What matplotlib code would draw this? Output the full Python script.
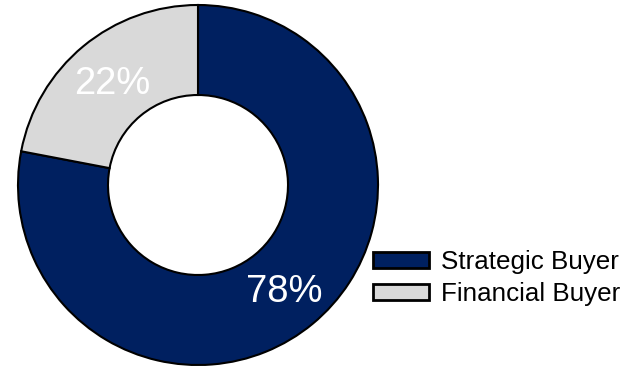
import matplotlib.pyplot as plt

# данные
labels = ["Strategic Buyer", "Financial Buyer"]
shares = [78, 22]
colors = ["#002060", "#D9D9D9"]

plt.rcParams['font.family'] = ['Liberation Sans', 'DejaVu Sans']

fig = plt.figure(figsize=(6.27, 3.67), dpi=100)
ax = fig.add_axes([0, 0, 1, 1])

wedges, texts, autotexts = ax.pie(
    shares, colors=colors, startangle=90, counterclock=False,
    center=(198, 182), radius=180,
    autopct=lambda p: "{:.0f}%".format(p), pctdistance=0.75,
    wedgeprops=dict(width=90, edgecolor="black", linewidth=1.5),
    textprops=dict(color="white", fontsize=27.5))
# чуть сдвигаем подписи вниз, как в оригинале
for t in autotexts:
    x, y = t.get_position()
    t.set_position((x, y - 3))

ax.set_xlim(0, 627)
ax.set_ylim(0, 367)
ax.set_aspect("equal")
ax.axis("off")

leg = ax.legend(wedges, labels, loc="upper left",
                bbox_to_anchor=(368 / 627, 1 - 245 / 367),
                frameon=False, fontsize=18.7,
                handlelength=2.15, handleheight=0.6,
                handletextpad=0.45, labelspacing=0.3,
                borderaxespad=0, borderpad=0.2)
for h in leg.legend_handles:
    h.set_linewidth(2)
    h.set_edgecolor("black")

fig.savefig("out.png", dpi=100)
